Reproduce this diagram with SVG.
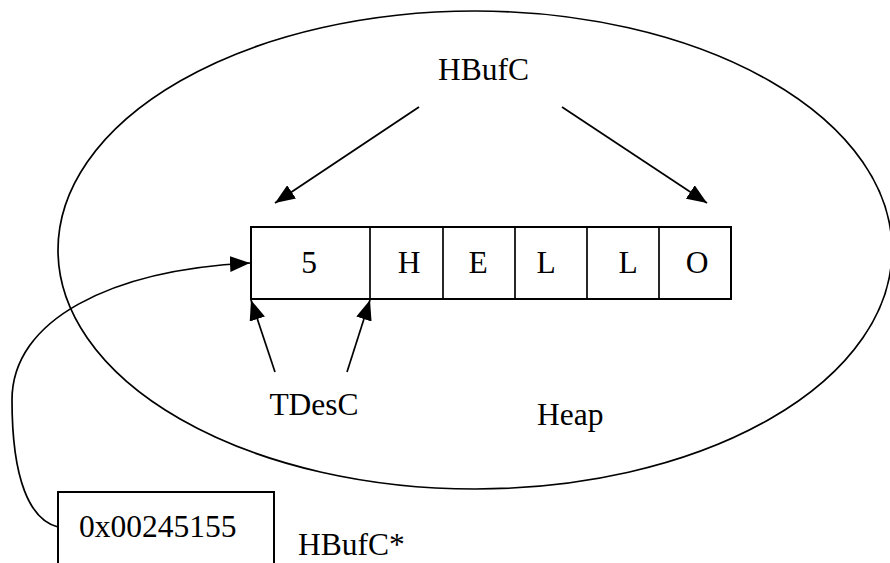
<svg xmlns="http://www.w3.org/2000/svg" width="890" height="563" viewBox="0 0 890 563">
<style>
  text { font-family: "Liberation Serif", "Times New Roman", serif; font-size: 31.5px; fill: #000; }
  .line { stroke: #000; stroke-width: 1.7; fill: none; }
  .box { stroke: #000; stroke-width: 2; fill: #fff; }
</style>
<defs>
  <marker id="arrow" markerUnits="userSpaceOnUse" markerWidth="20" markerHeight="16" viewBox="0 0 20 16" refX="20" refY="8" orient="auto">
    <path d="M0,0 L20,8 L0,16 Z" fill="#000"/>
  </marker>
</defs>
<rect x="0" y="0" width="890" height="563" fill="#fff"/>
<g id="heap">
  <ellipse cx="475" cy="250" rx="417" ry="239" class="line"/>
  <text x="537" y="425">Heap</text>
</g>
<g id="hbufc-label">
  <text x="483.5" y="80" text-anchor="middle">HBufC</text>
</g>
<g id="buffer">
  <rect x="251" y="227" width="480" height="72" class="box"/>
  <line x1="370" y1="227" x2="370" y2="299" class="line"/>
  <line x1="443" y1="227" x2="443" y2="299" class="line"/>
  <line x1="515" y1="227" x2="515" y2="299" class="line"/>
  <line x1="587" y1="227" x2="587" y2="299" class="line"/>
  <line x1="659" y1="227" x2="659" y2="299" class="line"/>
  <text x="309" y="273" text-anchor="middle">5</text>
  <text x="409" y="273" text-anchor="middle">H</text>
  <text x="478" y="273" text-anchor="middle">E</text>
  <text x="546" y="273" text-anchor="middle">L</text>
  <text x="628" y="273" text-anchor="middle">L</text>
  <text x="697" y="273" text-anchor="middle">O</text>
</g>
<g id="tdesc-label">
  <text x="314" y="415" text-anchor="middle">TDesC</text>
</g>
<g id="pointer">
  <rect x="58" y="492" width="216" height="72" class="box"/>
  <text x="79" y="537">0x00245155</text>
  <text x="298" y="555">HBufC*</text>
</g>
<g id="connectors">
  <line x1="419" y1="107" x2="275" y2="203" class="line" marker-end="url(#arrow)"/>
  <line x1="562" y1="107" x2="707" y2="203" class="line" marker-end="url(#arrow)"/>
  <line x1="275" y1="372" x2="251" y2="300" class="line" marker-end="url(#arrow)"/>
  <line x1="347" y1="372" x2="370" y2="300" class="line" marker-end="url(#arrow)"/>
  <path d="M58,527 C30,520 12,480 12,400 C12,320 110,270 250,263" class="line" marker-end="url(#arrow)"/>
</g>
</svg>
